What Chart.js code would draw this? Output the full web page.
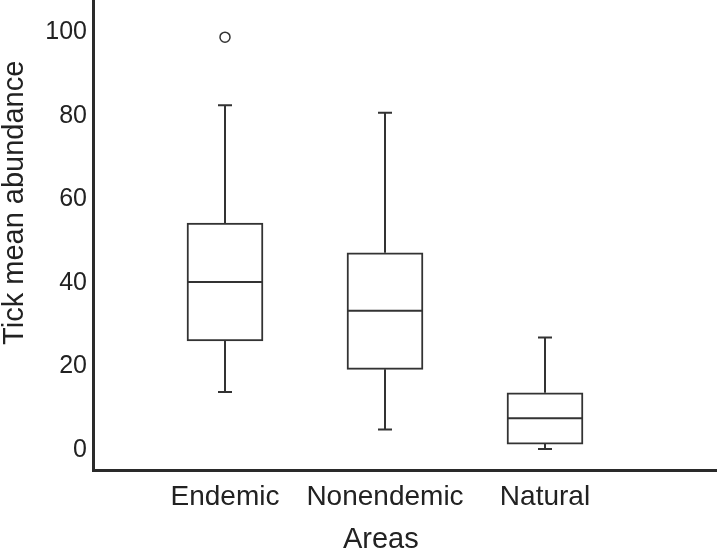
<!DOCTYPE html>
<html>
<head>
<meta charset="utf-8">
<script src="https://cdn.jsdelivr.net/npm/chart.js@4/dist/chart.umd.min.js"></script>
<style>
  html, body { margin: 0; padding: 0; background: #ffffff; }
  #wrap { width: 717px; height: 554px; position: relative; }
</style>
</head>
<body>
<div id="wrap"><canvas id="c"></canvas></div>
<script>
// ---- data ----
const categories  = ['Endemic', 'Nonendemic', 'Natural'];
const xPositions  = [1, 2, 3];
const whiskerLow  = [13.9, 4.9, 0.2];
const q1          = [26.1, 19.3, 1.4];
const median      = [40.2, 33.3, 7.6];
const q3          = [54.3, 47.2, 13.7];
const whiskerHigh = [82.5, 80.7, 26.9];
const outliers    = [[98.8], [], []];
const yTickValues = [0, 20, 40, 60, 80, 100];

const INK = '#333333';
const FONT = "'Liberation Sans', Arial, Helvetica, sans-serif";
const NB = '\u00a0';

const boxData = categories.map((c, i) => ({ x: xPositions[i], y: [q1[i], q3[i]] }));
const outlierData = [];
outliers.forEach((list, i) => list.forEach(v => outlierData.push({ x: xPositions[i], y: v })));

const boxParts = {
  id: 'boxParts',
  afterDatasetsDraw(chart) {
    const { ctx } = chart;
    const xs = chart.scales.x, ys = chart.scales.y;
    const meta = chart.getDatasetMeta(0);
    ctx.save();
    ctx.strokeStyle = INK;
    ctx.lineWidth = 2;
    ctx.lineCap = 'butt';
    categories.forEach((c, i) => {
      const bar = meta.data[i];
      const cx = xs.getPixelForValue(xPositions[i]);
      const half = bar.width / 2;
      const capHalf = 7;
      const yMed = ys.getPixelForValue(median[i]);
      const yQ1 = ys.getPixelForValue(q1[i]);
      const yQ3 = ys.getPixelForValue(q3[i]);
      const yLo = ys.getPixelForValue(whiskerLow[i]);
      const yHi = ys.getPixelForValue(whiskerHigh[i]);
      ctx.beginPath();
      ctx.moveTo(cx - half, yMed); ctx.lineTo(cx + half, yMed);
      ctx.moveTo(cx, yQ3); ctx.lineTo(cx, yHi);
      ctx.moveTo(cx - capHalf, yHi); ctx.lineTo(cx + capHalf, yHi);
      ctx.moveTo(cx, yQ1); ctx.lineTo(cx, yLo);
      ctx.moveTo(cx - capHalf, yLo); ctx.lineTo(cx + capHalf, yLo);
      ctx.stroke();
    });
    ctx.restore();
  }
};

function noPad(s) {
  s.paddingTop = 0; s.paddingBottom = 0; s.paddingLeft = 0; s.paddingRight = 0;
}

new Chart(document.getElementById('c'), {
  type: 'bar',
  data: {
    datasets: [
      {
        type: 'bar',
        data: boxData,
        backgroundColor: '#ffffff',
        borderColor: INK,
        borderWidth: 2,
        borderSkipped: false,
        barThickness: 76
      },
      {
        type: 'scatter',
        data: outlierData,
        pointRadius: 5,
        pointBackgroundColor: '#ffffff',
        pointBorderColor: INK,
        pointBorderWidth: 1.5
      }
    ]
  },
  options: {
    responsive: true,
    maintainAspectRatio: false,
    animation: false,
    devicePixelRatio: 1,
    layout: { padding: 0, autoPadding: false },
    plugins: { legend: { display: false }, tooltip: { enabled: false } },
    scales: {
      x: {
        type: 'linear',
        offset: false,
        min: 0.175,
        max: 4.075,
        grid: { display: false, drawTicks: false, offset: false },
        border: { display: true, color: '#2a2a2a', width: 3 },
        afterBuildTicks: s => { s.ticks = xPositions.map(v => ({ value: v })); },
        ticks: {
          autoSkip: false, maxRotation: 0, padding: 10,
          color: '#222222',
          font: { family: FONT, size: 28 },
          callback: v => { const k = xPositions.indexOf(v); return k >= 0 ? categories[k] : ''; }
        },
        title: {
          display: true,
          text: 'Areas' + NB.repeat(6),
          color: '#222222',
          font: { family: FONT, size: 29, lineHeight: 1 },
          padding: 0
        },
        afterFit: s => { s.height = 84; noPad(s); }
      },
      y: {
        type: 'linear',
        min: -4.8,
        max: 107.7,
        grid: { display: false, drawTicks: false },
        border: { display: true, color: '#2a2a2a', width: 3 },
        afterBuildTicks: s => { s.ticks = yTickValues.map(v => ({ value: v })); },
        ticks: {
          padding: 6,
          color: '#222222',
          font: { family: FONT, size: 25 }
        },
        title: {
          display: true,
          text: NB.repeat(8) + 'Tick mean abundance',
          color: '#222222',
          font: { family: FONT, size: 29, lineHeight: 1 },
          padding: 0
        },
        afterFit: s => { s.width = 93; noPad(s); }
      }
    }
  },
  plugins: [boxParts]
});
</script>
</body>
</html>
